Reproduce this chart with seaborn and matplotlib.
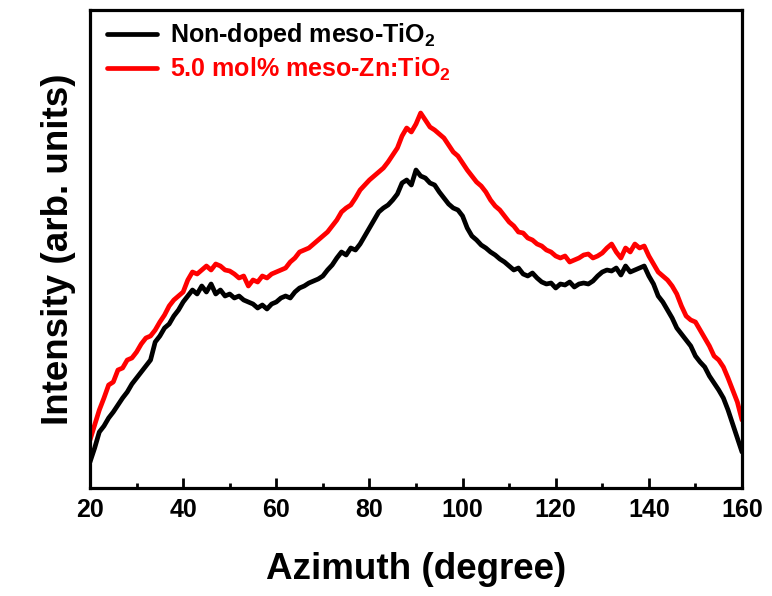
import numpy as np
import pandas as pd
import matplotlib
matplotlib.use("Agg")
import matplotlib.pyplot as plt
import seaborn as sns
from matplotlib.ticker import MultipleLocator

azimuth = list(range(20, 161))

non_doped = [26, 40, 56, 62, 70, 76, 83, 90, 96, 104, 110, 116, 122, 128, 146, 152, 160, 164, 172, 178,
             186, 192, 198, 194, 202, 196, 204, 194, 198, 192, 194, 190, 192, 188, 186, 184, 180, 183, 179, 184,
             186, 190, 192, 190, 196, 200, 202, 205, 207, 209, 212, 218, 223, 230, 236, 233, 240, 238, 244, 252,
             260, 268, 276, 280, 283, 288, 294, 305, 308, 303, 318, 312, 310, 305, 303, 296, 290, 284, 280, 278,
             272, 260, 252, 248, 243, 240, 236, 233, 229, 226, 222, 218, 220, 214, 212, 215, 210, 206, 204, 205,
             200, 204, 203, 206, 201, 204, 205, 204, 207, 212, 216, 218, 217, 220, 213, 222, 216, 218, 220, 222,
             212, 204, 192, 186, 178, 170, 160, 154, 148, 142, 132, 126, 121, 112, 105, 98, 90, 78, 64, 50, 36]

zn_doped = [48, 63, 78, 90, 103, 106, 118, 120, 128, 130, 136, 144, 150, 152, 158, 166, 173, 182, 188, 192,
            196, 208, 216, 214, 218, 222, 218, 224, 222, 218, 217, 214, 210, 212, 202, 208, 206, 212, 210, 214,
            216, 218, 220, 226, 230, 236, 238, 240, 244, 248, 252, 256, 262, 268, 276, 280, 283, 290, 298, 303,
            308, 312, 316, 320, 326, 333, 340, 352, 360, 356, 364, 375, 368, 361, 358, 354, 350, 343, 336, 332,
            325, 318, 312, 306, 302, 296, 288, 282, 278, 272, 266, 262, 256, 255, 250, 248, 244, 242, 238, 236,
            232, 230, 232, 226, 228, 230, 233, 234, 230, 232, 235, 240, 244, 236, 230, 240, 236, 244, 240, 242,
            232, 224, 216, 212, 208, 202, 194, 182, 172, 168, 166, 158, 150, 142, 132, 128, 121, 110, 98, 86, 68]

labels = [r"Non-doped meso-TiO$_\mathbf{2}$", r"5.0 mol% meso-Zn:TiO$_\mathbf{2}$"]
colors = ["#000000", "#ff0000"]

df = pd.DataFrame({
    "Azimuth": azimuth * 2,
    "Intensity": non_doped + zn_doped,
    "Sample": [labels[0]] * len(azimuth) + [labels[1]] * len(azimuth),
})

sns.set_style("ticks")
plt.rcParams["font.family"] = ["Liberation Sans", "DejaVu Sans"]
plt.rcParams["font.weight"] = "bold"
plt.rcParams["text.color"] = "black"
plt.rcParams["axes.labelcolor"] = "black"
plt.rcParams["xtick.color"] = "black"
plt.rcParams["ytick.color"] = "black"
plt.rcParams["mathtext.fontset"] = "custom"
plt.rcParams["mathtext.rm"] = "Liberation Sans:bold"
plt.rcParams["mathtext.bf"] = "Liberation Sans:bold"

fig = plt.figure(figsize=(7.72, 5.96), dpi=100)
ax = fig.add_axes([90 / 772, 108 / 596, 652 / 772, 478 / 596])

sns.lineplot(data=df, x="Azimuth", y="Intensity", hue="Sample", palette=colors,
             linewidth=3.4, ax=ax, legend=False)

ax.set_xlim(20, 160)
ax.set_ylim(0, 478)
ax.xaxis.set_major_locator(MultipleLocator(20))
ax.xaxis.set_minor_locator(MultipleLocator(10))
ax.set_yticks([])
ax.tick_params(axis="x", which="major", direction="in", length=7, width=2,
               labelsize=18, pad=7, top=False, colors="black")
ax.tick_params(axis="x", which="minor", direction="in", length=3.5, width=2, top=False)
for lab in ax.get_xticklabels():
    lab.set_fontweight("bold")
for sp in ax.spines.values():
    sp.set_visible(True)
    sp.set_linewidth(2.3)
    sp.set_color("black")

ax.set_xlabel("Azimuth (degree)", fontsize=26.5, fontweight="bold", labelpad=22, color="black")
ax.set_ylabel("Intensity (arb. units)", fontsize=26.5, fontweight="bold", labelpad=10, color="black")

handles = [plt.Line2D([], [], color=c, linewidth=3.4) for c in colors]
leg = ax.legend(handles, labels, loc="upper left", frameon=False, fontsize=18,
                handlelength=2.0, handletextpad=0.5, labelspacing=0.25,
                borderaxespad=0.05, bbox_to_anchor=(0.009, 1.0))
for t, c in zip(leg.get_texts(), colors):
    t.set_color(c)
    t.set_fontweight("bold")

fig.savefig("out.png", dpi=100)
